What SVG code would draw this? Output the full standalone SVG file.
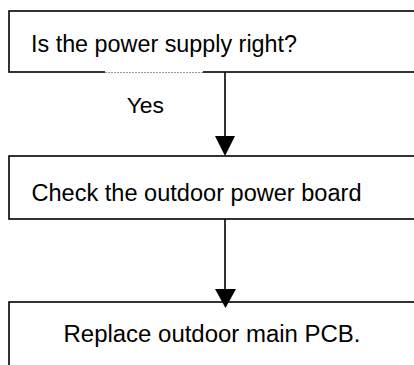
<svg xmlns="http://www.w3.org/2000/svg" width="414" height="365" viewBox="0 0 414 365">
  <style>
    .box { fill: #ffffff; stroke: #000000; stroke-width: 1.6; }
    .lbl { font-family: "Liberation Sans", Arial, sans-serif; font-size: 23.3px; fill: #000000; }
    .edge { stroke: #000000; stroke-width: 1.6; fill: none; }
    .gap { stroke: #999999; stroke-width: 1; stroke-dasharray: 2 1; }
    .head { fill: #000000; }
  </style>
  <rect x="0" y="0" width="414" height="365" fill="#ffffff"/>
  <g id="node-power-supply">
    <rect class="box" x="9" y="11" width="420" height="61"/>
    <line x1="105" y1="72" x2="203" y2="72" stroke="#ffffff" stroke-width="2.4"/>
    <line class="gap" x1="105" y1="72.5" x2="203" y2="72.5"/>
    <text class="lbl" x="31" y="51.7" textLength="266" lengthAdjust="spacingAndGlyphs">Is the power supply right?</text>
  </g>
  <g id="node-power-board">
    <rect class="box" x="9" y="156" width="420" height="63"/>
    <text class="lbl" x="31.5" y="201" textLength="330" lengthAdjust="spacingAndGlyphs">Check the outdoor power board</text>
  </g>
  <g id="node-replace-pcb">
    <rect class="box" x="9" y="302" width="420" height="80"/>
    <text class="lbl" x="63.5" y="341.7" textLength="297" lengthAdjust="spacingAndGlyphs">Replace outdoor main PCB.</text>
  </g>
  <g id="connectors">
    <line class="edge" x1="225" y1="72" x2="225" y2="140"/>
    <polygon class="head" points="215,136 235,136 225,156"/>
    <text class="lbl" x="126.7" y="113" style="font-size:21.5px" textLength="37.3" lengthAdjust="spacingAndGlyphs">Yes</text>
    <line class="edge" x1="225" y1="219" x2="225" y2="292"/>
    <polygon class="head" points="215,289 236,289 225.5,308"/>
  </g>
</svg>
